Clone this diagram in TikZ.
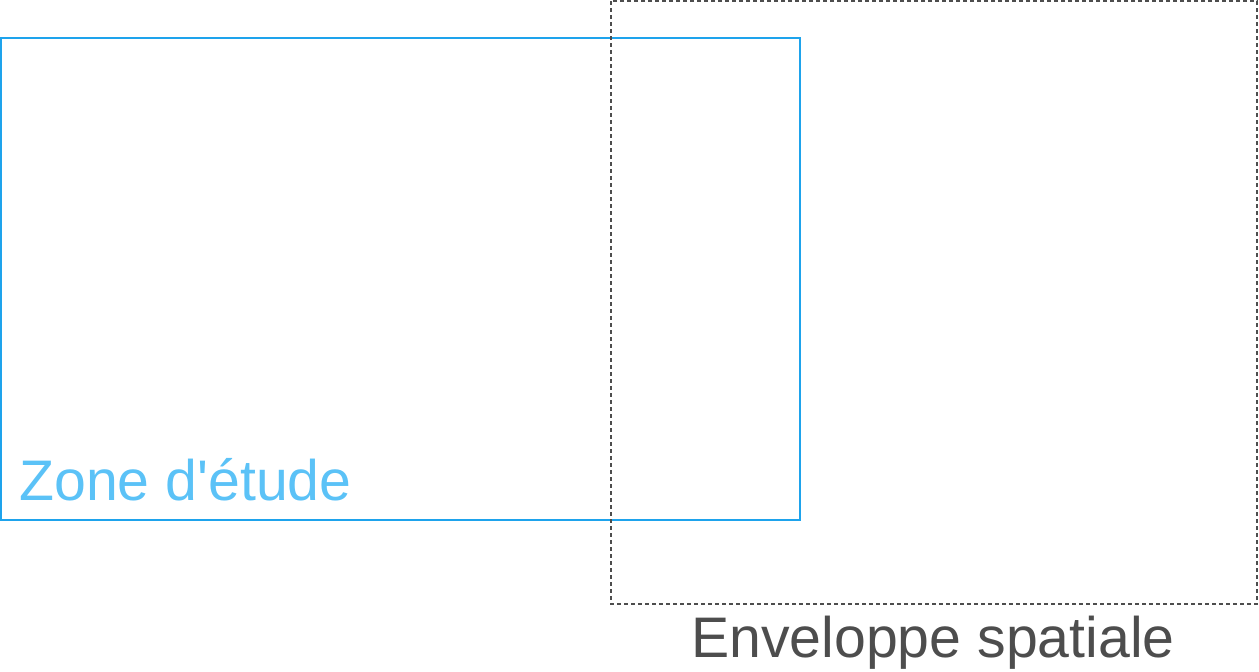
\documentclass[tikz,border=0pt]{standalone}
\usepackage{fontspec}
\setmainfont{Liberation Sans}
\usepackage{tikz}
\definecolor{zoneblue}{HTML}{1EA3EC}
\definecolor{zonetext}{HTML}{5BC2F7}
\definecolor{envgray}{HTML}{4D4D4D}
\begin{document}
\begin{tikzpicture}[x=0.5pt, y=-0.5pt,
    label/.style={inner sep=0pt, font=\fontsize{28.6}{32}\selectfont}]
        \useasboundingbox (0,0) rectangle (1259,671);                 %
        \draw [line width=1.2pt, zoneblue]  (1,38) rectangle (800,520);  %zone
        \node [label, zonetext, anchor=base west] (zone) at (19,500) {Zone d\textquotesingle étude};
        \draw [line width=1.2pt, envgray, dash pattern=on 2pt off 1.5pt]
              (611,1) rectangle (1257,604);                           %enveloppe
        \node [label, envgray, anchor=base] (env) at (933,657) {Enveloppe spatiale};
      \end{tikzpicture}
\end{document}
